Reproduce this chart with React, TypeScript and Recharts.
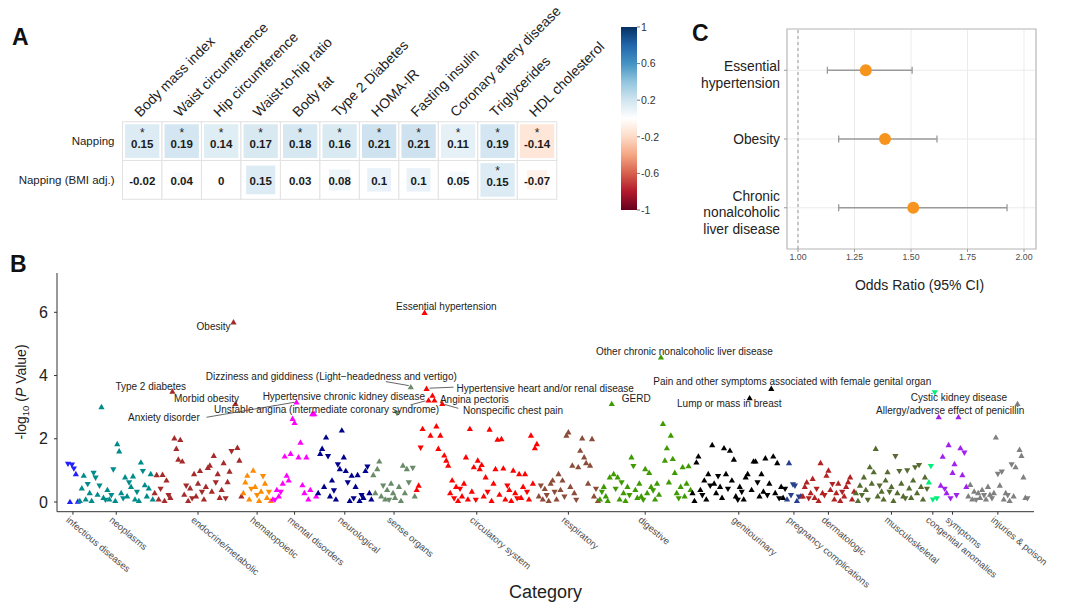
import React from "react";
import {
  ScatterChart,
  Scatter,
  XAxis,
  YAxis,
  CartesianGrid,
  ReferenceLine,
  ReferenceArea,
  ErrorBar,
} from "recharts";

// ---------- A: napping vs. traits ----------
const traits = [
  "Body mass index",
  "Waist circumference",
  "Hip circumference",
  "Waist-to-hip ratio",
  "Body fat",
  "Type 2 Diabetes",
  "HOMA-IR",
  "Fasting insulin",
  "Coronary artery disease",
  "Triglycerides",
  "HDL cholesterol",
];
const exposures = ["Napping", "Napping (BMI adj.)"];
const nappingR = [0.15, 0.19, 0.14, 0.17, 0.18, 0.16, 0.21, 0.21, 0.11, 0.19, -0.14];
const nappingSig = [1, 1, 1, 1, 1, 1, 1, 1, 1, 1, 1];
const bmiAdjR = [-0.02, 0.04, 0, 0.15, 0.03, 0.08, 0.1, 0.1, 0.05, 0.15, -0.07];
const bmiAdjSig = [0, 0, 0, 0, 0, 0, 0, 0, 0, 1, 0];
const traitGroups = ["Anthropometric", "Cardiometabolic"];
const traitGroupSpan = [
  [0, 4],
  [5, 10],
];
const colorbarTicks = [1, 0.6, 0.2, -0.2, -0.6, -1];

// ---------- B: PheWAS, signed -log10(P) (sign = direction of effect) ----------
const categories = [
  "infectious diseases",
  "neoplasms",
  "endocrine/metabolic",
  "hematopoietic",
  "mental disorders",
  "neurological",
  "sense organs",
  "circulatory system",
  "respiratory",
  "digestive",
  "genitourinary",
  "pregnancy complications",
  "dermatologic",
  "musculoskeletal",
  "congenital anomalies",
  "symptoms",
  "injuries & poison",
];
const infectious = [-1.19, 0.02, -1.16, -1.04, 0.9, 0.03];
const neoplasms = [0.05, 0.45, 0.85, 0.1, -0.55, 0.3, 0.05, -0.9, -0.75, 0.25, -0.5, 3.02, 0.15, -0.05, 0.4, 0.1, -0.2, -1.01, 0.05, 1.85, 1.62, 0.3, -0.1, 0.8, 0.2, -0.6, 0.5, 0.83, 0.1, -0.3, 0.05, 1.27, -0.96, 0.55, 0.2, 0.45, 0.9, 0.1];
const endocrine = [0.3, 0.87, 0.1, -0.4, 0.88, 0.05, 0.7, -0.2, 0.15, 3.51, 2.03, 1.7, 1.36, 1.98, 1.3, 0.25, -0.5, 0.05, 0.45, -0.1, 0.9, 0.2, 0.6, 1.0, -0.3, 0.1, 0.5, 1.1, 1.17, 0.35, 1.48, -0.6, 0.9, 0.15, 0.4, 1.25, -0.1, 0.65, 0.98, -1.59, 5.7, 3.12, 1.73, 1.33, 0.2];
const hematopoietic = [0.3, 0.64, 0.85, 0.1, -0.4, 1.01, 0.5, -0.2, 0.05, 0.35, -0.8, 0.6, 0.15, -0.3, 0.05];
const mental = [0.1, -0.05, 0.4, 0.2, -0.3, 0.6, 1.46, 0.85, 0.7, 1.54, 2.65, 2.52, 3.17, 1.43, 1.9, 0.55, 0.3, 1.43, 0.1, 0.4, 2.8, 2.8, 0.2];
const neurological = [0.3, 1.54, 1.7, 0.5, 2.06, -1.43, 0.2, 0.7, -0.35, 0.1, -1.17, 1.06, 2.28, 1.43, 1.0, -0.6, 0.05, 0.85, -0.1, 0.5, 0.87, 0.05, -0.2, 0.15, 1.0, -1.1, 0.3, 0.1];
const senseOrgans = [0.87, 0.3, 1.06, 1.3, 0.2, -0.5, 0.1, 0.4, -0.05, 0.6, 0.3, 0.15, -2.8, 0.5, 0.05, 1.17, 0.3, 1.06, -0.6, 3.65, -1.06, 0.2];
const circulatory = [0.4, 0.54, -1.7, 2.33, 6.0, 3.6, 3.23, 2.12, 3.38, 3.23, 2.41, 1.7, 2.12, 3.12, 1.49, 1.33, 1.17, 0.3, 0.7, -0.1, 0.5, 0.05, -0.4, 0.2, 0.6, 1.43, 0.1, 2.33, 0.35, 1.12, -0.05, 1.33, 1.06, 1.19, 0.2, 0.8, -0.3, 2.31, 0.05, 0.6, 1.06, 1.99, 0.25, 2.01, 1.08, 0.1, -0.5, 0.4, 0.05, 1.01, 0.3, -0.1, 0.9, 0.15, 0.5, 0.9, -0.3, 0.1, 2.12, 0.6, 1.72, 1.85];
const respiratory = [0.2, -0.5, 0.1, 0.43, -0.2, 0.05, 0.6, 0.7, -0.3, 0.1, 0.9, 0.4, 0.7, -0.15, 2.12, 2.22, 0.5, 1.17, 0.3, -0.05, 1.12, 1.64, 2.03, 1.43, 1.25, 0.6, 1.17, 2.01, 0.2, -0.4, 0.05];
const digestive = [0.1, -0.3, 0.5, 0.2, 0.05, 0.8, 3.12, 0.9, -0.4, 0.8, 0.1, -0.6, 0.3, 0.05, 0.5, -0.2, 1.43, -1.12, 0.4, 0.15, 0.6, 0.2, -0.05, 1.06, 0.3, 0.94, 0.5, -0.35, 0.1, 0.6, 0.25, 4.59, 2.49, 1.33, 1.72, 0.64, 2.12, 1.38, 0.94, 0.3, -0.1, 0.5, 1.12, 0.2, 0.6, 1.15, 0.4];
const genitourinary = [0.3, 0.05, 1.27, 1.46, 0.4, -0.2, 0.7, 0.1, 0.9, -0.5, 1.82, 0.6, 0.3, -0.8, 0.5, 0.15, 1.72, 0.9, -0.4, 1.64, 0.7, 1.36, 0.2, -0.05, 0.5, -0.3, 0.1, 0.8, 0.9, 3.3, 0.4, 1.3, 1.3, -0.6, 0.2, 0.9, 0.35, 1.4, -0.2, 0.6, 3.6, 1.46, 0.3, 1.25, -0.1, 0.5, 0.15, -0.4];
const pregnancy = [0.1, 1.25, -0.2, -0.54, -0.5, 0.05, -0.15, 0.2];
const dermatologic = [0.2, 0.5, 0.64, -0.1, 0.3, 0.75, 0.15, -0.4, 0.05, 1.25, 0.3, -0.2, 0.85, 1.01, 0.4, -0.55, 0.1, 0.3, 0.6, 0.05, -0.3, 0.2, 0.5, 0.65, 0.8, 0.1, 0.35];
const musculoskeletal = [0.3, 0.05, 0.54, -0.2, 0.8, 0.4, -0.05, 1.12, 0.6, 0.96, 1.7, 0.2, -0.5, 0.35, 0.1, 0.7, 0.96, -0.3, 0.5, 0.05, -1.43, 0.3, -0.96, 0.6, 0.2, -0.1, -0.98, 0.45, 0.15, 0.7, -1.08, 0.3, -1.15, 0.5, 0.1, 0.8, -0.4];
const congenital = [0.64, -1.12, -0.06, -3.45, -0.1];
const symptoms = [2.7, 0.54, 1.45, -0.4, 0.3, 1.82, -0.1, 0.94, 1.22, -0.2, 2.7, 1.72, 0.87, -1.54, 0.5];
const injuries = [0.2, 0.56, 0.1, 0.35, -0.05, 0.3, 0.15, 0.4, -0.2, 0.1, 0.5, 0.25, -0.1, 0.3, 2.06, -0.87, 0.54, -0.94, 0.1, 0.3, -0.2, 0.05, -1.17, 0.2, 1.12, 3.12, 1.67, 1.48, 0.8, 0.15, -0.1];

const phewas = [infectious, neoplasms, endocrine, hematopoietic, mental, neurological, senseOrgans, circulatory, respiratory, digestive, genitourinary, pregnancy, dermatologic, musculoskeletal, congenital, symptoms, injuries];
const yTicksB = [0, 2, 4, 6];

// labelled phenotypes: category index, position within category
const annotations = [
  { label: "Essential hypertension", cat: 7, i: 4 },
  { label: "Obesity", cat: 2, i: 40 },
  { label: "Other chronic nonalcoholic liver disease", cat: 9, i: 31 },
  { label: "Dizziness and giddiness (Light\u2212headedness and vertigo)", cat: 6, i: 19 },
  { label: "Type 2 diabetes", cat: 2, i: 9 },
  { label: "Morbid obesity", cat: 2, i: 41 },
  { label: "Hypertensive heart and/or renal disease", cat: 7, i: 5 },
  { label: "Hypertensive chronic kidney disease", cat: 7, i: 8 },
  { label: "Angina pectoris", cat: 7, i: 9 },
  { label: "Unstable angina (intermediate coronary syndrome)", cat: 7, i: 6 },
  { label: "Nonspecific chest pain", cat: 7, i: 13 },
  { label: "GERD", cat: 9, i: 6 },
  { label: "Lump or mass in breast", cat: 10, i: 29 },
  { label: "Pain and other symptoms associated with female genital organ", cat: 10, i: 40 },
  { label: "Cystic kidney disease", cat: 14, i: 3 },
  { label: "Allergy/adverse effect of penicillin", cat: 16, i: 25 },
  { label: "Anxiety disorder", cat: 4, i: 12 },
];

// ---------- C: odds ratios ----------
const forestNames = [
  ["Essential", "hypertension"],
  ["Obesity"],
  ["Chronic", "nonalcoholic", "liver disease"],
];
const forestOR = [1.3, 1.385, 1.51];
const forestLower = [1.13, 1.18, 1.18];
const forestUpper = [1.505, 1.615, 1.925];
const forestTicks = [1, 1.25, 1.5, 1.75, 2];

// ---------- styling ----------
const FONT = "'Liberation Sans', Arial, Helvetica, sans-serif";
const RDBU = ["#67001F", "#B2182B", "#D6604D", "#F4A582", "#FDDBC7", "#FFFFFF", "#D1E5F0", "#92C5DE", "#4393C3", "#2166AC", "#053061"];
const catColors = ["#1F1FFF", "#008B8B", "#A52A2A", "#FF8C00", "#FF00FF", "#00008B", "#698B69", "#FF0000", "#8B4C39", "#3F9A00", "#000000", "#27408B", "#B22222", "#556B2F", "#00EE76", "#A020F0", "#808080"];

const hex = (h: string) => [1, 3, 5].map((i) => parseInt(h.slice(i, i + 2), 16));
function rdbu(v: number) {
  const t = ((Math.max(-1, Math.min(1, v)) + 1) / 2) * (RDBU.length - 1);
  const i = Math.min(RDBU.length - 2, Math.floor(t));
  const f = t - i;
  const a = hex(RDBU[i]);
  const b = hex(RDBU[i + 1]);
  return `rgb(${a.map((c, k) => Math.round(c + (b[k] - c) * f)).join(",")})`;
}

// ---------- panel A ----------
const HM_W = 620;
const HM_H = 250;
const HM_BOX = { left: 122.5, right: 556.8, top: 121.7, bottom: 199.3 };
const CELL_W = (HM_BOX.right - HM_BOX.left) / traits.length;
const CELL_H = (HM_BOX.bottom - HM_BOX.top) / exposures.length;

const heatData = [nappingR, bmiAdjR].flatMap((row, r) =>
  row.map((v, c) => ({ x: c, y: r, v, sig: [nappingSig, bmiAdjSig][r][c] === 1 }))
);
const groupCenters = traitGroupSpan.map(([a, b]) => (a + b) / 2);

const HeatCell = (p: any) => {
  const { cx, cy, payload } = p;
  const v: number = payload.v;
  const sig: boolean = payload.sig;
  const frac = sig ? 0.94 : Math.min(0.94, Math.sqrt(Math.abs(v) / 0.15) * 0.8);
  const w = (CELL_W - 3) * frac;
  const h = (CELL_H - 3) * frac;
  return (
    <g>
      <rect x={cx - CELL_W / 2} y={cy - CELL_H / 2} width={CELL_W} height={CELL_H} fill="#fff" stroke="#e2e2e2" />
      {v !== 0 && <rect x={cx - w / 2} y={cy - h / 2} width={w} height={h} fill={rdbu(v)} />}
      {sig && (
        <text x={cx} y={cy - 4.5} textAnchor="middle" fontSize={12} fill="#222">
          *
        </text>
      )}
      <text x={cx} y={cy + (sig ? 6.5 : 5)} textAnchor="middle" fontSize={11.5} fontWeight="bold" fill="#1a1a1a">
        {v === 0 ? "0" : String(v)}
      </text>
    </g>
  );
};

const HeaderTick = (p: any) => {
  const x = p.x - 2;
  const y = HM_BOX.top - 4;
  return (
    <text x={x} y={y} transform={`rotate(-45 ${x} ${y})`} fontSize={14} fill="#222">
      {traits[p.payload.value]}
    </text>
  );
};

const RowTick = (p: any) => (
  <text x={p.x} y={p.y} dy="0.35em" textAnchor="end" fontSize={11.5} fill="#222">
    {exposures[p.payload.value]}
  </text>
);

const GroupTick = (p: any) => {
  const [a, b] = traitGroupSpan[p.index];
  const half = ((b - a + 1) * CELL_W) / 2 - 1;
  const x0 = p.x - half;
  const x1 = p.x + half;
  const yb = 212.5;
  const d = `M${x0},202 L${x0},${yb - 2} Q${x0},${yb} ${x0 + 2},${yb} L${x1 - 2},${yb} Q${x1},${yb} ${x1},${yb - 2} L${x1},202 M${p.x},${yb} L${p.x},219.5`;
  return (
    <g>
      <path d={d} fill="none" stroke="#666" strokeWidth={1} />
      <text x={p.x} y={241} textAnchor="middle" fontSize={12} fill="#222">
        {traitGroups[p.index]}
      </text>
    </g>
  );
};

function HeatmapPanel() {
  return (
    <ScatterChart
      width={HM_W}
      height={HM_H}
      margin={{ top: HM_BOX.top - 20, right: HM_W - HM_BOX.right, bottom: HM_H - HM_BOX.bottom - 48, left: HM_BOX.left - 100 }}
    >
      <XAxis xAxisId="col" type="number" dataKey="x" orientation="top" height={20} domain={[-0.5, traits.length - 0.5]} ticks={traits.map((_, i) => i)} interval={0} axisLine={false} tickLine={false} tick={(p: any) => <HeaderTick {...p} />} />
      <XAxis xAxisId="grp" type="number" orientation="bottom" height={48} domain={[-0.5, traits.length - 0.5]} ticks={groupCenters} interval={0} axisLine={false} tickLine={false} tick={(p: any) => <GroupTick {...p} />} />
      <YAxis type="number" dataKey="y" width={100} domain={[-0.5, exposures.length - 0.5]} reversed ticks={[0, 1]} interval={0} axisLine={false} tickLine={false} tick={(p: any) => <RowTick {...p} />} />
      <Scatter xAxisId="col" data={heatData} isAnimationActive={false} shape={(p: any) => <HeatCell {...p} />} />
    </ScatterChart>
  );
}

const colorbarPoints = colorbarTicks.map((v) => ({ x: 0.5, y: v }));

function ColorBar() {
  return (
    <ScatterChart width={80} height={240} margin={{ top: 27, right: 3, bottom: 30, left: 21 }}>
      <defs>
        <linearGradient id="rdbuBar" x1="0" y1="0" x2="0" y2="1">
          {RDBU.slice()
            .reverse()
            .map((c, i) => (
              <stop key={i} offset={`${(i / (RDBU.length - 1)) * 100}%`} stopColor={c} />
            ))}
        </linearGradient>
      </defs>
      <XAxis type="number" dataKey="x" domain={[0, 1]} hide />
      <YAxis type="number" dataKey="y" orientation="right" domain={[-1, 1]} ticks={colorbarTicks} interval={0} width={40} tickSize={3} tickMargin={1} axisLine={false} tickLine={{ stroke: "#777" }} tick={{ fontSize: 10.5, fill: "#333" }} />
      <ReferenceArea x1={0} x2={1} y1={-1} y2={1} fill="url(#rdbuBar)" fillOpacity={1} stroke="none" />
      <Scatter data={colorbarPoints} isAnimationActive={false} shape={() => <g />} />
    </ScatterChart>
  );
}

// ---------- panel B ----------
const B_TOP = 250;
const B_W = 1080;
const B_H = 363;
const B_BOX = { left: 57, right: 1034, top: 273, bottom: 511.7 };

let runStart = 0;
const phewasSeries = phewas.map((vals) => {
  const pts = vals.map((v, i) => ({ x: runStart + i, y: Math.abs(v), up: v >= 0 }));
  const center = runStart + (vals.length - 1) / 2;
  const start = runStart;
  runStart += vals.length;
  return { pts, center, start };
});
const catCenters = phewasSeries.map((s) => s.center);
const annoPoints = annotations.map((a) => ({
  x: phewasSeries[a.cat].start + a.i,
  y: Math.abs(phewas[a.cat][a.i]),
  label: a.label,
}));

// label offsets from the marked point, in px
const annoLayout: Record<string, { dx: number; dy: number; anchor?: string; line?: number[] }> = {
  "Essential hypertension": { dx: -28.6, dy: -6 },
  Obesity: { dx: -3, dy: 4.5, anchor: "end" },
  "Other chronic nonalcoholic liver disease": { dx: -65, dy: -5 },
  "Dizziness and giddiness (Light\u2212headedness and vertigo)": { dx: -205, dy: -10, line: [-25, -5, -2, -1] },
  "Type 2 diabetes": { dx: -57, dy: -5 },
  "Morbid obesity": { dx: -61.5, dy: -5 },
  "Hypertensive heart and/or renal disease": { dx: 30, dy: 0, line: [27, -1, 3, 0] },
  "Hypertensive chronic kidney disease": { dx: -7.5, dy: 1, anchor: "end" },
  "Angina pectoris": { dx: 5.5, dy: 0 },
  "Unstable angina (intermediate coronary syndrome)": { dx: -214.5, dy: 10, line: [-18, 5, -3, 1] },
  "Nonspecific chest pain": { dx: 20.7, dy: 7, line: [16, 5, 2, 1] },
  GERD: { dx: 10, dy: -5 },
  "Lump or mass in breast": { dx: -72.6, dy: 5.5 },
  "Pain and other symptoms associated with female genital organ": { dx: -118, dy: -7 },
  "Cystic kidney disease": { dx: -24, dy: 5 },
  "Allergy/adverse effect of penicillin": { dx: -141.5, dy: 7 },
  "Anxiety disorder": { dx: -168.5, dy: 16, line: [-90, 15.5, -2, 0.5] },
};

const Tri = (p: any) => {
  const { cx, cy, payload, color } = p;
  const s = 3.1;
  const h = 5.4;
  const pts = payload.up
    ? `${cx - s},${cy + h / 2} ${cx + s},${cy + h / 2} ${cx},${cy - h / 2}`
    : `${cx - s},${cy - h / 2} ${cx + s},${cy - h / 2} ${cx},${cy + h / 2}`;
  return <polygon points={pts} fill={color} />;
};

const AnnoLabel = (p: any) => {
  const { cx, cy, payload } = p;
  const L = annoLayout[payload.label];
  return (
    <g>
      {L.line && <line x1={cx + L.line[0]} y1={cy + L.line[1]} x2={cx + L.line[2]} y2={cy + L.line[3]} stroke="#555" strokeWidth={0.9} />}
      <text x={cx + L.dx} y={cy + L.dy} dy="0.35em" textAnchor={L.anchor || "start"} fontSize={10} fill="#222">
        {payload.label}
      </text>
    </g>
  );
};

const CatTick = (p: any) => {
  const ax = p.x - 7.5;
  const ay = B_BOX.bottom - B_TOP + 9.3;
  return (
    <text x={ax} y={ay} transform={`rotate(40 ${ax} ${ay})`} fontSize={9.5} fill="#4d4d4d">
      {categories[p.index]}
    </text>
  );
};

const YLabelB = () => (
  <text x={25.5} y={392 - B_TOP} transform={`rotate(-90 25.5 ${392 - B_TOP})`} textAnchor="middle" fontSize={14} fill="#222">
    <tspan>-log</tspan>
    <tspan fontSize={9.5} dy={3}>
      10
    </tspan>
    <tspan dy={-3}> (</tspan>
    <tspan fontStyle="italic">P</tspan>
    <tspan> Value)</tspan>
  </text>
);

function ManhattanPanel() {
  const first = 68;
  const pxPerIdx = (1027.4 - first) / (runStart - 1);
  const xDomain = [-(first - B_BOX.left) / pxPerIdx, (B_BOX.right - first) / pxPerIdx];
  const zeroY = 502;
  const pxPerUnit = (zeroY - 312.3) / 6;
  const yDomain = [-(B_BOX.bottom - zeroY) / pxPerUnit, (zeroY - B_BOX.top) / pxPerUnit];
  return (
    <ScatterChart
      width={B_W}
      height={B_H}
      margin={{ top: B_BOX.top - B_TOP, right: B_W - B_BOX.right, bottom: B_H - (B_BOX.bottom - B_TOP) - 100, left: 0 }}
    >
      <XAxis
        type="number"
        dataKey="x"
        domain={xDomain}
        ticks={catCenters}
        interval={0}
        height={100}
        tickSize={3}
        axisLine={{ stroke: "#333" }}
        tickLine={{ stroke: "#333" }}
        tick={(p: any) => <CatTick {...p} />}
        label={{ value: "Category", position: "insideBottom", offset: 13.5, fontSize: 18, fill: "#222" }}
      />
      <YAxis
        type="number"
        dataKey="y"
        domain={yDomain}
        ticks={yTicksB}
        interval={0}
        width={B_BOX.left}
        tickSize={3}
        tickMargin={6}
        axisLine={{ stroke: "#333" }}
        tickLine={{ stroke: "#333" }}
        tick={{ fontSize: 16, fill: "#222" }}
        label={{ content: () => <YLabelB /> }}
      />
      {phewasSeries.map((s, k) => (
        <Scatter key={categories[k]} name={categories[k]} data={s.pts} isAnimationActive={false} shape={(p: any) => <Tri {...p} color={catColors[k]} />} />
      ))}
      <Scatter data={annoPoints} isAnimationActive={false} shape={(p: any) => <AnnoLabel {...p} />} />
    </ScatterChart>
  );
}

// ---------- panel C ----------
const C_LEFT = 680;
const C_W = 400;
const C_H = 300;
const C_BOX = { left: 787, right: 1036, top: 29, bottom: 249 };
const forestData = forestOR.map((or, i) => ({
  x: or,
  y: forestNames.length - i,
  ci: [or - forestLower[i], forestUpper[i] - or],
}));

const ForestTick = (p: any) => {
  const lines = forestNames[forestNames.length - p.payload.value];
  const lh = 16.5;
  const y0 = p.y - ((lines.length - 1) * lh) / 2 + (lines.length > 1 ? 4.5 : 0);
  return (
    <text x={p.x} y={y0} textAnchor="end" fontSize={13.8} fill="#222">
      {lines.map((l: string, i: number) => (
        <tspan key={i} x={p.x} dy={i === 0 ? "0.35em" : lh}>
          {l}
        </tspan>
      ))}
    </text>
  );
};

function ForestPanel() {
  const pxPerOR = (1024 - 798) / 1;
  const xDomain = [1 - (798 - C_BOX.left) / pxPerOR, 2 + (C_BOX.right - 1024) / pxPerOR];
  const yDomain = [0.4, 3.6];
  return (
    <ScatterChart
      width={C_W}
      height={C_H}
      margin={{ top: C_BOX.top, right: C_LEFT + C_W - C_BOX.right, bottom: C_H - C_BOX.bottom - 45, left: 0 }}
    >
      <CartesianGrid stroke="#ebebeb" />
      <ReferenceArea x1={xDomain[0]} x2={xDomain[1]} y1={yDomain[0]} y2={yDomain[1]} fill="none" stroke="#bdbdbd" strokeWidth={1.2} />
      <XAxis
        type="number"
        dataKey="x"
        domain={xDomain}
        ticks={forestTicks}
        interval={0}
        height={45}
        tickSize={3}
        tickMargin={2}
        axisLine={false}
        tickLine={{ stroke: "#999" }}
        tickFormatter={(v: number) => v.toFixed(2)}
        tick={{ fontSize: 8.8, fill: "#4d4d4d" }}
        label={{ value: "Odds Ratio (95% CI)", position: "insideBottom", offset: 4, dx: 8, fontSize: 14, fill: "#222" }}
      />
      <YAxis
        type="number"
        dataKey="y"
        domain={yDomain}
        ticks={[1, 2, 3]}
        interval={0}
        width={C_BOX.left - C_LEFT}
        tickSize={3}
        tickMargin={4}
        axisLine={false}
        tickLine={{ stroke: "#999" }}
        tick={(p: any) => <ForestTick {...p} />}
      />
      <ReferenceLine x={1} stroke="#9a9a9a" strokeDasharray="3 3" />
      <Scatter data={forestData} isAnimationActive={false} shape={(p: any) => <circle cx={p.cx} cy={p.cy} r={6} fill="#F7941D" />}>
        <ErrorBar dataKey="ci" direction="x" width={3.5} stroke="#9a9a9a" strokeWidth={1.3} />
      </Scatter>
    </ScatterChart>
  );
}

export default function App() {
  return (
    <div style={{ position: "relative", width: 1080, height: 613, background: "#fff", fontFamily: FONT, overflow: "hidden" }}>
      <style>{"body{margin:0}"}</style>
      <div style={{ position: "absolute", left: 0, top: 0 }}>
        <HeatmapPanel />
      </div>
      <div style={{ position: "absolute", left: 600, top: 0 }}>
        <ColorBar />
      </div>
      <div style={{ position: "absolute", left: C_LEFT, top: 0 }}>
        <ForestPanel />
      </div>
      <div style={{ position: "absolute", left: 0, top: B_TOP }}>
        <ManhattanPanel />
      </div>
      <svg width={1080} height={613} style={{ position: "absolute", left: 0, top: 0, pointerEvents: "none" }}>
        <g fontFamily={FONT} fontWeight="bold" fontSize={23} fill="#111">
          <text x={12} y={45}>A</text>
          <text x={10} y={272}>B</text>
          <text x={692} y={41}>C</text>
        </g>
      </svg>
    </div>
  );
}
